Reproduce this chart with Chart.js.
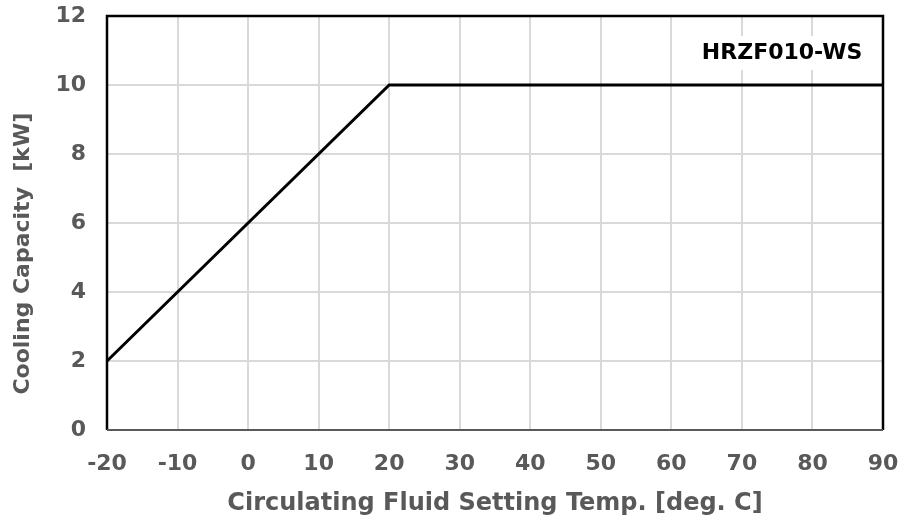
<!DOCTYPE html>
<html>
<head>
<meta charset="utf-8">
<script src="https://cdn.jsdelivr.net/npm/chart.js@4"></script>
<style>
  html, body { margin: 0; padding: 0; background: #fff; }
  #wrap { width: 903px; height: 528px; }
</style>
</head>
<body>
<div id="wrap"><canvas id="chart" width="903" height="528"></canvas></div>
<script>
const temps = [-20, 20, 90];
const capacity = [2, 10, 10];
const xTicks = [-20, -10, 0, 10, 20, 30, 40, 50, 60, 70, 80, 90];
const yTicks = [0, 2, 4, 6, 8, 10, 12];
const modelName = 'HRZF010-WS';

const FONT = "'DejaVu Sans', Verdana, sans-serif";
const GRAY = '#595959';

// frame: black left/top/right, gray bottom
const framePlugin = {
  id: 'frame',
  afterDatasetsDraw(chart) {
    const { ctx, chartArea: a } = chart;
    ctx.save();
    ctx.lineWidth = 2.5;
    ctx.strokeStyle = '#000';
    ctx.beginPath();
    ctx.moveTo(a.left, a.bottom);
    ctx.lineTo(a.left, a.top);
    ctx.lineTo(a.right, a.top);
    ctx.lineTo(a.right, a.bottom);
    ctx.stroke();
    ctx.lineWidth = 2;
    ctx.strokeStyle = GRAY;
    ctx.beginPath();
    ctx.moveTo(a.left, a.bottom);
    ctx.lineTo(a.right, a.bottom);
    ctx.stroke();
    ctx.restore();
  }
};

// model label in the upper right
const labelPlugin = {
  id: 'modelLabel',
  beforeDatasetsDraw(chart) {
    const { ctx, scales } = chart;
    const x = scales.x.getPixelForValue(75.7);
    const y = scales.y.getPixelForValue(10.93);
    ctx.save();
    ctx.font = 'bold 22px ' + FONT;
    const w = ctx.measureText(modelName).width;
    ctx.fillStyle = '#fff';
    ctx.fillRect(x - w / 2 - 6, y - 17, w + 12, 34);
    ctx.fillStyle = '#000';
    ctx.textAlign = 'center';
    ctx.textBaseline = 'middle';
    ctx.fillText(modelName, x, y);
    ctx.restore();
  }
};

new Chart(document.getElementById('chart'), {
  type: 'scatter',
  data: {
    datasets: [{
      data: temps.map((t, i) => ({ x: t, y: capacity[i] })),
      showLine: true,
      borderColor: '#000',
      borderWidth: 3,
      pointRadius: 0,
      tension: 0
    }]
  },
  options: {
    responsive: false,
    animation: false,
    layout: { padding: { top: 16, right: 20, bottom: 6, left: 6 } },
    plugins: { legend: { display: false }, tooltip: { enabled: false } },
    scales: {
      x: {
        type: 'linear',
        min: -20,
        max: 90,
        afterBuildTicks: s => { s.ticks = xTicks.map(v => ({ value: v })); },
        afterFit: s => { s.height = 92; s.paddingLeft = 0; s.paddingRight = 0; },
        grid: { color: '#d9d9d9', lineWidth: 2, drawTicks: false },
        border: { display: false },
        ticks: { color: GRAY, padding: 21, font: { family: FONT, size: 22, weight: 'bold' } },
        title: {
          display: true,
          text: 'Circulating Fluid Setting Temp. [deg. C]',
          color: GRAY,
          padding: { top: 10 },
          font: { family: FONT, size: 24, weight: 'bold' }
        }
      },
      y: {
        min: 0,
        max: 12,
        afterBuildTicks: s => { s.ticks = yTicks.map(v => ({ value: v })); },
        afterFit: s => { s.width = 101; s.paddingTop = 0; s.paddingBottom = 0; },
        grid: { color: '#d9d9d9', lineWidth: 2, drawTicks: false },
        border: { display: false },
        ticks: { color: GRAY, padding: 21, font: { family: FONT, size: 22, weight: 'bold' } },
        title: {
          display: true,
          text: 'Cooling Capacity  [kW]        ',
          color: GRAY,
          padding: { bottom: 4 },
          font: { family: FONT, size: 22, weight: 'bold' }
        }
      }
    }
  },
  plugins: [framePlugin, labelPlugin]
});
</script>
</body>
</html>
